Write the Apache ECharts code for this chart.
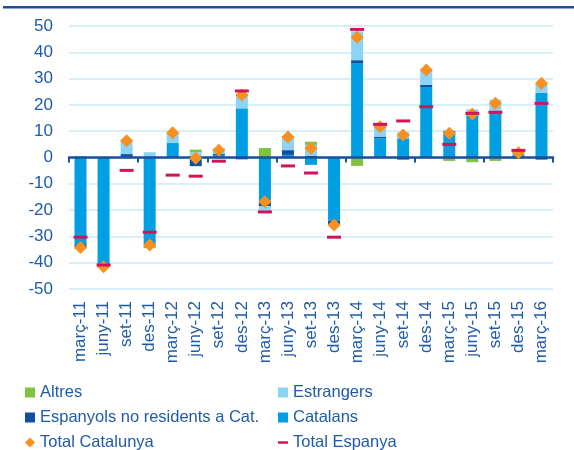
<!DOCTYPE html>
<html>
<head>
<meta charset="utf-8">
<script src="https://cdn.jsdelivr.net/npm/echarts@6/dist/echarts.min.js"></script>
<style>
  html, body { margin: 0; padding: 0; background: #fff; }
  #chart { width: 574px; height: 450px; }
</style>
</head>
<body>
<div id="chart"></div>
<script>
// categories (trimestres)
const categories = ['març-11', 'juny-11', 'set-11', 'des-11', 'març-12', 'juny-12', 'set-12', 'des-12',
  'març-13', 'juny-13', 'set-13', 'des-13', 'març-14', 'juny-14', 'set-14', 'des-14',
  'març-15', 'juny-15', 'set-15', 'des-15', 'març-16'];

// stacked components
const catalans = [-33, -40.5, 0.3, -33, 5.5, -0.3, 1, 18.7, -17, 1, -2.8, -24, 35.8, 7.3, 7.3, 26.8, 9, 16.8, 17.4, 1.2, 24.6];
const espanyols = [-1, 0, 1, 0, 0, -3, 0.5, -0.7, -1.5, 1.8, 0.6, -1.5, 1.2, 0.5, -0.8, 0.8, 1, 0, 0, 0, -0.8];
const estrangers = [0.6, 0, 5.2, 2, 3.8, 2, 2, 5.5, -1.8, 5, 4.2, 0, 11, 4, 2.3, 6, 0.3, 1.5, 4.6, 0.8, 3.6];
const altres = [-0.8, 0, 0, -1.5, 0, 1, 0, 0, 3.6, 0, 1.2, 0, -3.2, 0.3, 0, 0, -1.3, -1.8, -1.3, -0.4, 0];

// totals
const totalCatalunya = [-34.2, -41.5, 6.4, -33.3, 9.4, -0.3, 2.8, 23.8, -16.8, 7.8, 3.5, -25.7, 45.7, 11.7, 8.6, 33.3, 9.2, 16.5, 20.6, 1.8, 28.2];
const totalEspanya = [-30.3, -40.9, -4.9, -28.4, -6.7, -7.1, -1.4, 25.3, -20.7, -3.2, -5.9, -30.3, 48.7, 12.6, 13.9, 19.3, 5, 16.8, 17.2, 2.7, 20.6];

// legend layout: [name, icon, left, top]
const legendItems = [
  ['Altres', 'rect', 25, 384],
  ['Estrangers', 'rect', 278, 384],
  ['Espanyols no residents a Cat.', 'rect', 25, 409],
  ['Catalans', 'rect', 278, 409],
  ['Total Catalunya', 'diamond', 25, 434],
  ['Total Espanya', 'path://M0,0 L10,0 L10,2.5 L0,2.5 Z', 278, 434]
];

const textColor = '#1f5ba6';
const axisBlue = '#1a4f9c';
const font = 'Liberation Sans, Arial, sans-serif';

const chart = echarts.init(document.getElementById('chart'));

const barSeries = (name, data, color) => ({
  name: name,
  type: 'bar',
  stack: 'total',
  barWidth: 12,
  data: data,
  itemStyle: { color: color },
  z: 2
});

chart.setOption({
  animation: false,
  textStyle: { fontFamily: font },
  graphic: [{
    type: 'rect',
    shape: { x: 3, y: 6, width: 571, height: 2.5 },
    style: { fill: axisBlue },
    silent: true
  }],
  grid: { left: 69, right: 21, top: 26, bottom: 161 },
  legend: legendItems.map(([name, icon, left, top]) => ({
    left: left,
    top: top,
    itemWidth: 10,
    itemHeight: 10,
    padding: 0,
    textStyle: { color: textColor, fontSize: 16.5, fontFamily: font },
    data: [{ name: name, icon: icon }]
  })),
  xAxis: [
    {
      type: 'category',
      data: categories,
      position: 'bottom',
      axisLine: { show: false, onZero: false },
      axisTick: { show: false },
      axisLabel: { rotate: 90, color: textColor, fontSize: 17, margin: 12, interval: 0 },
      splitLine: { show: false }
    },
    {
      type: 'category',
      data: categories,
      position: 'bottom',
      axisLine: { show: true, onZero: true, lineStyle: { color: axisBlue, width: 2.5 } },
      axisTick: { show: true, length: 5, lineStyle: { color: axisBlue, width: 2 } },
      axisLabel: { show: false },
      splitLine: { show: false },
      z: 3
    }
  ],
  yAxis: {
    type: 'value',
    min: -50,
    max: 50,
    interval: 10,
    axisLine: { show: false },
    axisTick: { show: false },
    axisLabel: { color: textColor, fontSize: 17, margin: 16 },
    splitLine: { lineStyle: { color: '#cbe9f7', width: 1.5 } }
  },
  series: [
    barSeries('Catalans', catalans, '#009fe3'),
    barSeries('Espanyols no residents a Cat.', espanyols, '#0f4fa0'),
    barSeries('Estrangers', estrangers, '#8dd3f4'),
    barSeries('Altres', altres, '#80c342'),
    {
      name: 'Total Catalunya',
      type: 'scatter',
      data: totalCatalunya,
      symbol: 'diamond',
      symbolSize: 13,
      itemStyle: { color: '#f7901e', opacity: 1 },
      z: 5
    },
    {
      name: 'Total Espanya',
      type: 'scatter',
      data: totalEspanya,
      symbol: 'rect',
      symbolSize: [14, 3],
      itemStyle: { color: '#d1145a', opacity: 1 },
      z: 6
    }
  ]
});
</script>
</body>
</html>
